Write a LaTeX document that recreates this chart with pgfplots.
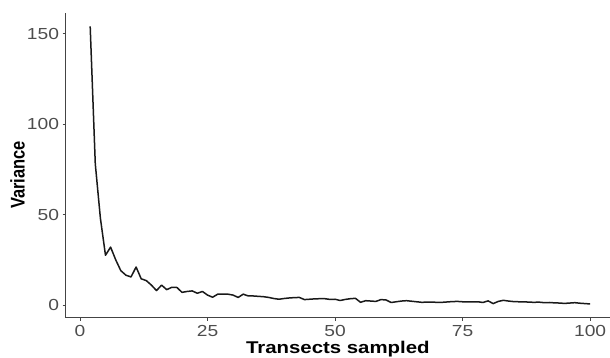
\documentclass[border=0pt]{standalone}
\usepackage{fontspec}
\setmainfont{Liberation Sans}[FakeStretch=1.2]
\newfontfamily\ylabfont{Liberation Sans}
\usepackage{graphicx}
\usepackage{pgfplots}
\usepackage{pgfplotstable}
\pgfplotsset{compat=1.18}
\definecolor{ticktext}{HTML}{4D4D4D}
\definecolor{axisline}{HTML}{444444}
\pgfplotstableread{
x y
2 154
3 78
4 48
5 27.5
6 32
7 25
8 19
9 16.5
10 15.5
11 21
12 14.5
13 13.5
14 11
15 8
16 11
17 8.5
18 9.8
19 9.7
20 7
21 7.5
22 7.8
23 6.5
24 7.5
25 5.5
26 4.3
27 6
28 6
29 6
30 5.5
31 4.2
32 6
33 5
34 5
35 4.8
36 4.6
37 4.2
38 3.6
39 3.2
40 3.6
41 3.9
42 4.1
43 4.2
44 3
45 3.2
46 3.4
47 3.5
48 3.5
49 3.1
50 3.2
51 2.5
52 3.1
53 3.5
54 3.7
55 1.5
56 2.4
57 2.2
58 2.0
59 3.0
60 2.8
61 1.4
62 1.8
63 2.2
64 2.4
65 2.1
66 1.8
67 1.5
68 1.6
69 1.6
70 1.5
71 1.5
72 1.7
73 1.9
74 2.0
75 1.8
76 1.7
77 1.7
78 1.8
79 1.4
80 2.3
81 0.8
82 2.0
83 2.6
84 2.2
85 1.9
86 1.8
87 1.8
88 1.6
89 1.5
90 1.6
91 1.3
92 1.4
93 1.2
94 1.1
95 0.9
96 1.1
97 1.3
98 1.0
99 0.8
100 0.6
}\vardata
\begin{document}
\begin{tikzpicture}
\useasboundingbox (0,0) rectangle (610bp,358bp);
\begin{axis}[
  at={(65.7bp,40.3bp)}, anchor=south west,
  scale only axis, width=544.3bp, height=304.4bp,
  xmin=-2.8, xmax=103.9, ymin=-7, ymax=161.2,
  axis x line*=bottom, axis y line*=left,
  axis line style={axisline, line width=0.9bp},
  xtick={0,25,50,75,100}, ytick={0,50,100,150},
  tick align=outside, major tick length=3bp,
  tick style={axisline, line width=0.9bp},
  minor tick num=0,
  /pgf/number format/assume math mode=true,
  ticklabel style={font=\fontsize{16bp}{19bp}\selectfont, text=ticktext},
  xticklabel style={anchor=base, inner sep=0pt, yshift=-16bp},
  yticklabel style={anchor=east, inner sep=0pt, xshift=-3.5bp},
  xlabel={\textbf{Transects sampled}},
  xlabel style={at={(axis description cs:0.5,0)}, anchor=base, yshift=-35.3bp, inner sep=0pt, font=\fontsize{17bp}{20bp}\selectfont},
  ylabel={\scalebox{1}[1.2]{\ylabfont\bfseries Variance}},
  ylabel style={at={(axis description cs:0,0.469)}, anchor=center, yshift=48.2bp, inner sep=0pt, font=\fontsize{16.5bp}{19bp}\selectfont},
]
\addplot[black!90, line width=1.5bp, line join=round] table[x=x,y=y] {\vardata};
\end{axis}
\end{tikzpicture}
\end{document}
